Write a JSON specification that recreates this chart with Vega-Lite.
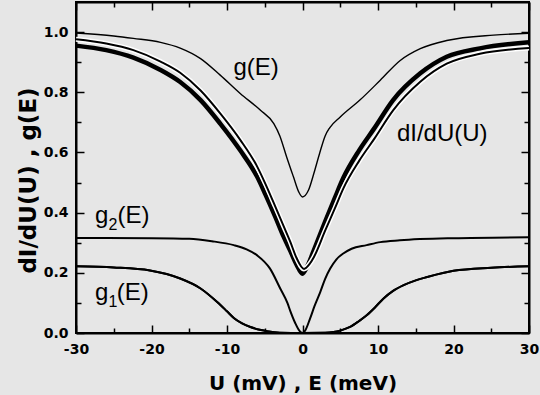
{
  "$schema": "https://vega.github.io/schema/vega-lite/v6.json",
  "width": 453,
  "height": 331,
  "autosize": {"type": "none"},
  "padding": {"left": 76, "top": 2, "right": 11, "bottom": 62},
  "background": "#e6e6e6",
  "config": {
    "view": {"stroke": "black", "strokeWidth": 2},
    "axis": {"grid": false, "labelFont": "DejaVu Sans", "labelFontWeight": "bold", "labelFontSize": 14, "labelColor": "black", "titleFont": "DejaVu Sans", "titleFontWeight": "bold", "titleColor": "black"}
  },
  "datasets": {
    "g1": [
      {"U": -30, "v": 0.222}, {"U": -25, "v": 0.218}, {"U": -20.2, "v": 0.208}, {"U": -18, "v": 0.196}, {"U": -16.2, "v": 0.181}, {"U": -13.5, "v": 0.148}, {"U": -11.3, "v": 0.103}, {"U": -10, "v": 0.072}, {"U": -9.1, "v": 0.05}, {"U": -8, "v": 0.032}, {"U": -6.9, "v": 0.02}, {"U": -5.5, "v": 0.01}, {"U": -4.7, "v": 0.006}, {"U": -3, "v": 0.001}, {"U": 0, "v": 0}, {"U": 3, "v": 0.0005}, {"U": 4.1, "v": 0.003}, {"U": 5, "v": 0.008}, {"U": 6.3, "v": 0.02}, {"U": 7.5, "v": 0.04}, {"U": 8.5, "v": 0.059}, {"U": 9.6, "v": 0.085}, {"U": 10.7, "v": 0.114}, {"U": 12, "v": 0.14}, {"U": 13.4, "v": 0.159}, {"U": 15, "v": 0.175}, {"U": 16.5, "v": 0.186}, {"U": 20, "v": 0.207}, {"U": 25, "v": 0.217}, {"U": 30, "v": 0.222}
    ],
    "g2": [
      {"U": -30, "v": 0.316}, {"U": -20, "v": 0.315}, {"U": -15, "v": 0.313}, {"U": -12, "v": 0.305}, {"U": -9.1, "v": 0.292}, {"U": -7.4, "v": 0.278}, {"U": -6, "v": 0.258}, {"U": -4.3, "v": 0.214}, {"U": -2.95, "v": 0.148}, {"U": -2, "v": 0.1}, {"U": -1.6, "v": 0.072}, {"U": -1, "v": 0.035}, {"U": -0.3, "v": 0.004}, {"U": 0, "v": 0}, {"U": 0.3, "v": 0.006}, {"U": 1, "v": 0.048}, {"U": 1.6, "v": 0.09}, {"U": 2.35, "v": 0.136}, {"U": 3, "v": 0.18}, {"U": 3.67, "v": 0.214}, {"U": 4.5, "v": 0.245}, {"U": 5.4, "v": 0.264}, {"U": 6.5, "v": 0.28}, {"U": 8.5, "v": 0.292}, {"U": 10.3, "v": 0.302}, {"U": 12.9, "v": 0.308}, {"U": 20, "v": 0.315}, {"U": 30, "v": 0.318}
    ],
    "g": [
      {"U": -30, "v": 0.997}, {"U": -25, "v": 0.987}, {"U": -22.4, "v": 0.979}, {"U": -18.8, "v": 0.966}, {"U": -16.2, "v": 0.947}, {"U": -13.5, "v": 0.912}, {"U": -10.9, "v": 0.857}, {"U": -8.25, "v": 0.796}, {"U": -5.6, "v": 0.741}, {"U": -3.8, "v": 0.696}, {"U": -3, "v": 0.655}, {"U": -2.1, "v": 0.585}, {"U": -1.2, "v": 0.519}, {"U": -0.5, "v": 0.469}, {"U": 0, "v": 0.452}, {"U": 0.8, "v": 0.475}, {"U": 1.5, "v": 0.53}, {"U": 2.3, "v": 0.6}, {"U": 3, "v": 0.655}, {"U": 3.6, "v": 0.682}, {"U": 5, "v": 0.718}, {"U": 7.6, "v": 0.774}, {"U": 10.3, "v": 0.84}, {"U": 12.9, "v": 0.905}, {"U": 15.6, "v": 0.945}, {"U": 19.1, "v": 0.972}, {"U": 25.3, "v": 0.99}, {"U": 30, "v": 0.996}
    ],
    "measured": [
      {"U": -30, "v": 0.955}, {"U": -26, "v": 0.94}, {"U": -22.4, "v": 0.915}, {"U": -18.8, "v": 0.874}, {"U": -16.2, "v": 0.834}, {"U": -13.5, "v": 0.774}, {"U": -10.9, "v": 0.696}, {"U": -8.25, "v": 0.607}, {"U": -6, "v": 0.519}, {"U": -4.9, "v": 0.46}, {"U": -3.6, "v": 0.386}, {"U": -2.5, "v": 0.32}, {"U": -1.6, "v": 0.272}, {"U": -0.8, "v": 0.228}, {"U": 0, "v": 0.197}, {"U": 0.6, "v": 0.22}, {"U": 1.5, "v": 0.275}, {"U": 3, "v": 0.37}, {"U": 4.3, "v": 0.45}, {"U": 5.4, "v": 0.515}, {"U": 7.5, "v": 0.607}, {"U": 9.5, "v": 0.68}, {"U": 12, "v": 0.774}, {"U": 15.6, "v": 0.863}, {"U": 19.1, "v": 0.918}, {"U": 23.5, "v": 0.946}, {"U": 30, "v": 0.966}
    ],
    "fit": [
      {"U": -30, "v": 0.976}, {"U": -26, "v": 0.962}, {"U": -22.4, "v": 0.94}, {"U": -18.8, "v": 0.902}, {"U": -16.2, "v": 0.865}, {"U": -13.5, "v": 0.806}, {"U": -10.9, "v": 0.73}, {"U": -8.25, "v": 0.642}, {"U": -6, "v": 0.553}, {"U": -4.9, "v": 0.495}, {"U": -3.6, "v": 0.42}, {"U": -2.5, "v": 0.355}, {"U": -1.6, "v": 0.302}, {"U": -0.8, "v": 0.25}, {"U": 0.2, "v": 0.213}, {"U": 0.9, "v": 0.228}, {"U": 1.5, "v": 0.252}, {"U": 3, "v": 0.34}, {"U": 4.3, "v": 0.415}, {"U": 5.4, "v": 0.48}, {"U": 7.5, "v": 0.572}, {"U": 9.5, "v": 0.645}, {"U": 12, "v": 0.74}, {"U": 15.6, "v": 0.835}, {"U": 19.1, "v": 0.895}, {"U": 23.5, "v": 0.928}, {"U": 30, "v": 0.947}
    ],
    "labels": [
      {"t": "g(E)", "U": -9.15, "v": 0.857},
      {"t": "dI/dU(U)", "U": 12.5, "v": 0.637},
      {"t": "g", "U": -27.5, "v": 0.365},
      {"t": "(E)", "U": -24.5, "v": 0.365},
      {"t": "g", "U": -27.5, "v": 0.109},
      {"t": "(E)", "U": -24.6, "v": 0.109}
    ],
    "subs": [
      {"t": "2", "U": -25.7, "v": 0.341},
      {"t": "1", "U": -25.7, "v": 0.085}
    ]
  },
  "resolve": {"axis": {"x": "independent", "y": "independent"}},
  "layer": [
    {
      "encoding": {
        "x": {
          "field": "U", "type": "quantitative",
          "scale": {"domain": [-30, 30], "nice": false, "zero": false},
          "axis": {
            "orient": "bottom",
            "values": [-30, -25, -20, -15, -10, -5, 0, 5, 10, 15, 20, 25, 30],
            "tickSize": {"condition": {"test": "datum.value % 10 === 0", "value": -8}, "value": -5},
            "tickColor": "black",
            "tickWidth": 1.5,
            "domainColor": "black",
            "domainWidth": 2,
            "labelExpr": "datum.value % 10 === 0 ? replace(datum.label, '−', '-') : ''",
            "labelPadding": 17,
            "labelFlush": false,
            "title": "U (mV) ,  E (meV)",
            "titleFontSize": 20,
            "titleY": 56,
            "titleBaseline": "alphabetic"
          }
        },
        "y": {
          "field": "v", "type": "quantitative",
          "scale": {"domain": [0, 1.1], "nice": false, "zero": false},
          "axis": {
            "orient": "left",
            "values": [0, 0.1, 0.2, 0.3, 0.4, 0.5, 0.6, 0.7, 0.8, 0.9, 1.0],
            "format": ".1f",
            "tickSize": {"condition": {"test": "round(datum.value * 10) % 2 === 0", "value": -8}, "value": -5},
            "tickColor": "black",
            "tickWidth": 1.5,
            "domainColor": "black",
            "domainWidth": 2,
            "labelExpr": "round(datum.value * 10) % 2 === 0 ? datum.label : ''",
            "labelPadding": 16,
            "labelFlush": false,
            "title": "dI/dU(U) , g(E)",
            "titleFontSize": 23,
            "titleX": -48,
            "titleY": 178,
            "titleAngle": -90,
            "titleAlign": "center",
            "titleBaseline": "middle"
          }
        }
      },
      "layer": [
        {"data": {"name": "g1"}, "mark": {"type": "line", "color": "black", "strokeWidth": 2, "interpolate": "monotone"}},
        {"data": {"name": "g2"}, "mark": {"type": "line", "color": "black", "strokeWidth": 2, "interpolate": "monotone"}},
        {"data": {"name": "g"}, "mark": {"type": "line", "color": "black", "strokeWidth": 1.4, "interpolate": "monotone"}},
        {"data": {"name": "measured"}, "mark": {"type": "line", "color": "black", "strokeWidth": 4.5, "interpolate": "monotone"}},
        {"data": {"name": "fit"}, "mark": {"type": "line", "color": "#ffffff", "strokeWidth": 5, "interpolate": "monotone"}},
        {"data": {"name": "fit"}, "mark": {"type": "line", "color": "black", "strokeWidth": 2, "interpolate": "monotone"}},
        {
          "data": {"name": "labels"},
          "mark": {"type": "text", "font": "Liberation Sans", "fontSize": 24, "align": "left", "baseline": "alphabetic", "color": "black"},
          "encoding": {"text": {"field": "t"}}
        },
        {
          "data": {"name": "subs"},
          "mark": {"type": "text", "font": "Liberation Sans", "fontSize": 16, "align": "left", "baseline": "alphabetic", "color": "black"},
          "encoding": {"text": {"field": "t"}}
        }
      ]
    },
    {
      "data": {"name": "g1"},
      "mark": {"type": "line", "color": "black", "strokeWidth": 2, "interpolate": "monotone"},
      "encoding": {
        "x": {
          "field": "U", "type": "quantitative",
          "axis": {
            "orient": "top",
            "values": [-30, -25, -20, -15, -10, -5, 0, 5, 10, 15, 20, 25, 30],
            "tickSize": {"condition": {"test": "datum.value % 10 === 0", "value": -8}, "value": -5},
            "tickColor": "black",
            "tickWidth": 1.5,
            "domainColor": "black",
            "domainWidth": 2,
            "labels": false,
            "title": null
          }
        },
        "y": {
          "field": "v", "type": "quantitative",
          "axis": {
            "orient": "right",
            "values": [0, 0.1, 0.2, 0.3, 0.4, 0.5, 0.6, 0.7, 0.8, 0.9, 1.0],
            "tickSize": {"condition": {"test": "round(datum.value * 10) % 2 === 0", "value": -8}, "value": -5},
            "tickColor": "black",
            "tickWidth": 1.5,
            "domainColor": "black",
            "domainWidth": 2,
            "labels": false,
            "title": null
          }
        }
      }
    }
  ]
}
